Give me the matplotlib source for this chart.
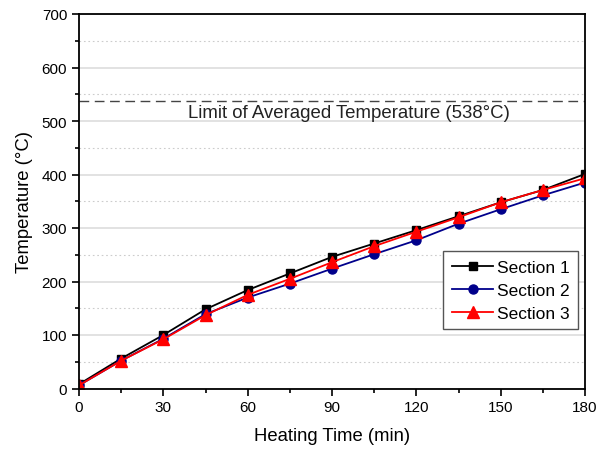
import matplotlib
matplotlib.use("Agg")
import matplotlib.pyplot as plt
from matplotlib.ticker import MultipleLocator

plt.rcParams['font.family'] = ['Liberation Sans', 'DejaVu Sans']

time_min = [0, 15, 30, 45, 60, 75, 90, 105, 120, 135, 150, 165, 180]
section1 = [8, 56, 100, 148, 184, 215, 246, 271, 296, 322, 348, 371, 401]
section2 = [6, 52, 93, 139, 170, 196, 224, 251, 277, 308, 335, 361, 385]
section3 = [6, 52, 92, 137, 175, 205, 236, 266, 293, 320, 348, 371, 393]
limit_temp = 538
limit_label = "Limit of Averaged Temperature (538\u00b0C)"

fig = plt.figure(figsize=(6.06, 4.52), dpi=100)
ax = fig.add_axes([79/606, 1 - 389.5/452, 506/606, 374.5/452])

ax.set_xlim(0, 180)
ax.set_ylim(0, 700)
ax.xaxis.set_major_locator(MultipleLocator(30))
ax.xaxis.set_minor_locator(MultipleLocator(15))
ax.yaxis.set_major_locator(MultipleLocator(100))
ax.yaxis.set_minor_locator(MultipleLocator(50))

ax.grid(which='major', axis='y', color='#dddddd', linewidth=1.2, linestyle='-')
ax.grid(which='minor', axis='y', color='#cccccc', linewidth=0.8, linestyle=(0, (1.5, 2.5)))
ax.set_axisbelow(True)

ax.tick_params(which='both', direction='out', top=False, right=False, labelsize=11, width=1.2)
ax.tick_params(which='major', length=5)
ax.tick_params(which='minor', length=3)
for s in ax.spines.values():
    s.set_linewidth(1.3)

ax.axhline(limit_temp, color='#444444', linestyle=(0, (7, 4)), linewidth=1.0, zorder=1)
ax.text(96.2, 515, limit_label, ha='center', va='center', fontsize=13.4, color='#222222')

ax.plot(time_min, section1, color='black', marker='s', markersize=6, linewidth=1.3, label='Section 1')
ax.plot(time_min, section2, color='#00008b', marker='o', markersize=6.5, linewidth=1.3, label='Section 2')
ax.plot(time_min, section3, color='red', marker='^', markersize=8, linewidth=1.3, label='Section 3')

ax.set_xlabel('Heating Time (min)', fontsize=13.3, labelpad=9)
ax.set_ylabel('Temperature (\u00b0C)', fontsize=13.3, labelpad=6)

leg = ax.legend(loc='upper left', bbox_to_anchor=((443-79)/506, (389.5-252)/374.5),
                fontsize=12.5, frameon=True, fancybox=False, framealpha=1,
                edgecolor='#555555', handlelength=2.4, borderpad=0.5,
                labelspacing=0.45, handletextpad=0.2, borderaxespad=0)
leg.get_frame().set_linewidth(1.0)

fig.savefig('out.png', dpi=100)
